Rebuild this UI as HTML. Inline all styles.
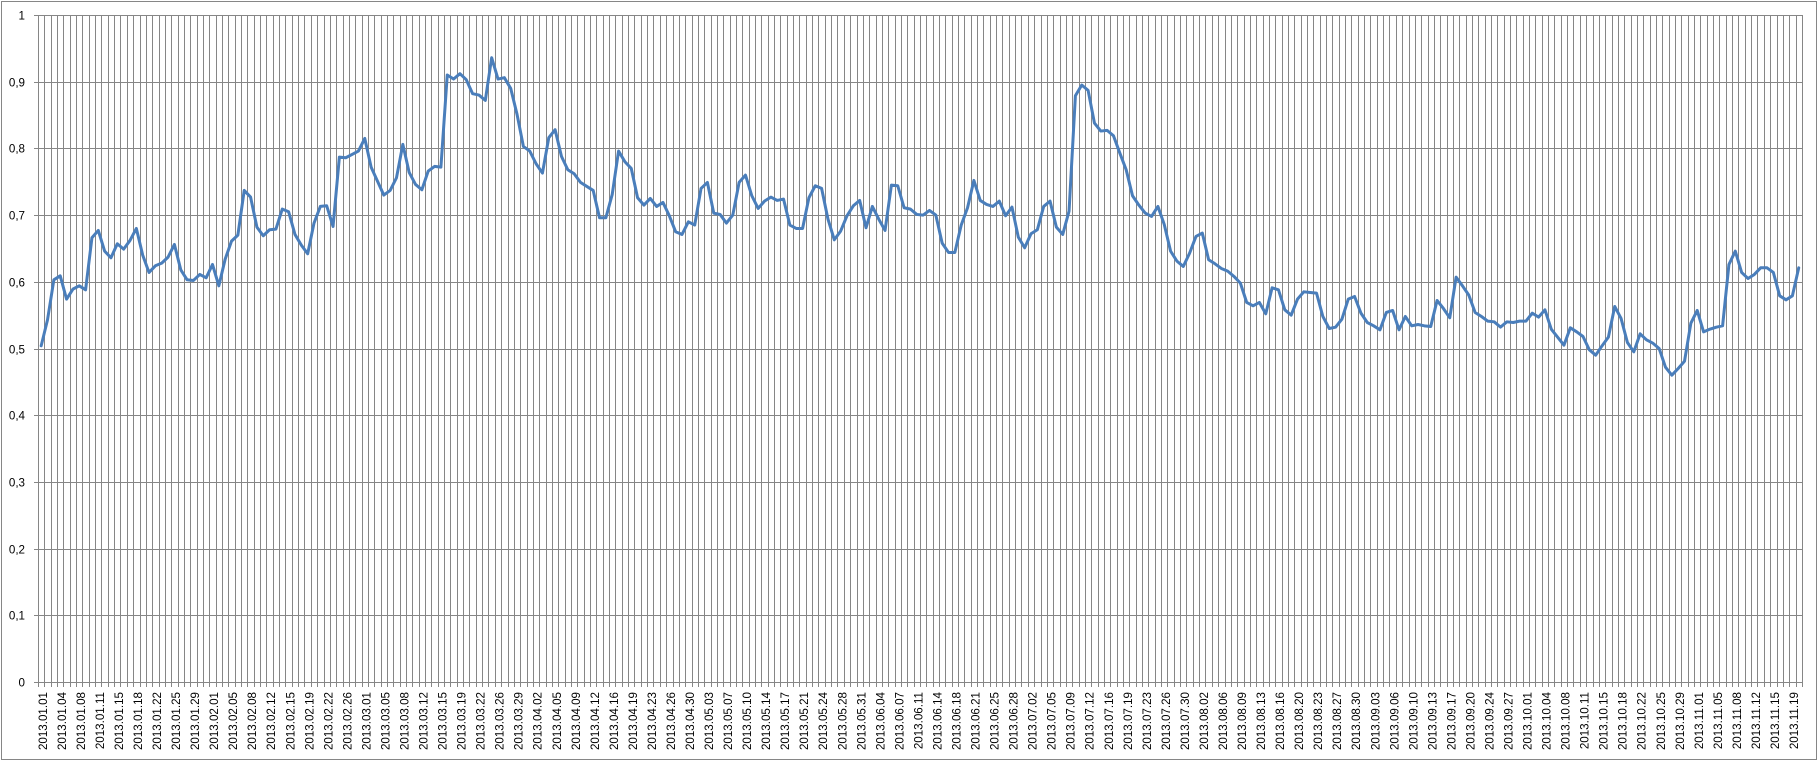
<!DOCTYPE html>
<html><head><meta charset="utf-8"><style>html,body{margin:0;padding:0;background:#fff;}svg{display:block;}text{font-family:"Liberation Sans",Arial,sans-serif;font-size:11.6px;fill:#000;}</style></head>
<body>
<svg width="1819" height="762" viewBox="0 0 1819 762" xmlns="http://www.w3.org/2000/svg">
<rect x="0" y="0" width="1819" height="762" fill="#fff"/>
<rect x="1.5" y="1.5" width="1815" height="758" fill="none" stroke="#868686" stroke-width="1"/>
<g stroke="#868686" stroke-width="1" shape-rendering="crispEdges" fill="none">
<path d="M34 15.5H1802M34 82.5H1802M34 148.5H1802M34 215.5H1802M34 282.5H1802M34 349.5H1802M34 415.5H1802M34 482.5H1802M34 549.5H1802M34 615.5H1802M34 682.5H1802"/>
<path d="M38.5 15V687M44.5 15V687M51.5 15V687M57.5 15V687M63.5 15V687M70.5 15V687M76.5 15V687M82.5 15V687M89.5 15V687M95.5 15V687M101.5 15V687M108.5 15V687M114.5 15V687M120.5 15V687M127.5 15V687M133.5 15V687M140.5 15V687M146.5 15V687M152.5 15V687M159.5 15V687M165.5 15V687M171.5 15V687M178.5 15V687M184.5 15V687M190.5 15V687M197.5 15V687M203.5 15V687M209.5 15V687M216.5 15V687M222.5 15V687M228.5 15V687M235.5 15V687M241.5 15V687M247.5 15V687M254.5 15V687M260.5 15V687M266.5 15V687M273.5 15V687M279.5 15V687M285.5 15V687M292.5 15V687M298.5 15V687M304.5 15V687M311.5 15V687M317.5 15V687M324.5 15V687M330.5 15V687M336.5 15V687M343.5 15V687M349.5 15V687M355.5 15V687M362.5 15V687M368.5 15V687M374.5 15V687M381.5 15V687M387.5 15V687M393.5 15V687M400.5 15V687M406.5 15V687M412.5 15V687M419.5 15V687M425.5 15V687M431.5 15V687M438.5 15V687M444.5 15V687M450.5 15V687M457.5 15V687M463.5 15V687M469.5 15V687M476.5 15V687M482.5 15V687M488.5 15V687M495.5 15V687M501.5 15V687M508.5 15V687M514.5 15V687M520.5 15V687M527.5 15V687M533.5 15V687M539.5 15V687M546.5 15V687M552.5 15V687M558.5 15V687M565.5 15V687M571.5 15V687M577.5 15V687M584.5 15V687M590.5 15V687M596.5 15V687M603.5 15V687M609.5 15V687M615.5 15V687M622.5 15V687M628.5 15V687M634.5 15V687M641.5 15V687M647.5 15V687M653.5 15V687M660.5 15V687M666.5 15V687M673.5 15V687M679.5 15V687M685.5 15V687M692.5 15V687M698.5 15V687M704.5 15V687M711.5 15V687M717.5 15V687M723.5 15V687M730.5 15V687M736.5 15V687M742.5 15V687M749.5 15V687M755.5 15V687M761.5 15V687M768.5 15V687M774.5 15V687M780.5 15V687M787.5 15V687M793.5 15V687M799.5 15V687M806.5 15V687M812.5 15V687M818.5 15V687M825.5 15V687M831.5 15V687M837.5 15V687M844.5 15V687M850.5 15V687M857.5 15V687M863.5 15V687M869.5 15V687M876.5 15V687M882.5 15V687M888.5 15V687M895.5 15V687M901.5 15V687M907.5 15V687M914.5 15V687M920.5 15V687M926.5 15V687M933.5 15V687M939.5 15V687M945.5 15V687M952.5 15V687M958.5 15V687M964.5 15V687M971.5 15V687M977.5 15V687M983.5 15V687M990.5 15V687M996.5 15V687M1002.5 15V687M1009.5 15V687M1015.5 15V687M1021.5 15V687M1028.5 15V687M1034.5 15V687M1041.5 15V687M1047.5 15V687M1053.5 15V687M1060.5 15V687M1066.5 15V687M1072.5 15V687M1079.5 15V687M1085.5 15V687M1091.5 15V687M1098.5 15V687M1104.5 15V687M1110.5 15V687M1117.5 15V687M1123.5 15V687M1129.5 15V687M1136.5 15V687M1142.5 15V687M1148.5 15V687M1155.5 15V687M1161.5 15V687M1167.5 15V687M1174.5 15V687M1180.5 15V687M1186.5 15V687M1193.5 15V687M1199.5 15V687M1205.5 15V687M1212.5 15V687M1218.5 15V687M1225.5 15V687M1231.5 15V687M1237.5 15V687M1244.5 15V687M1250.5 15V687M1256.5 15V687M1263.5 15V687M1269.5 15V687M1275.5 15V687M1282.5 15V687M1288.5 15V687M1294.5 15V687M1301.5 15V687M1307.5 15V687M1313.5 15V687M1320.5 15V687M1326.5 15V687M1332.5 15V687M1339.5 15V687M1345.5 15V687M1351.5 15V687M1358.5 15V687M1364.5 15V687M1370.5 15V687M1377.5 15V687M1383.5 15V687M1389.5 15V687M1396.5 15V687M1402.5 15V687M1409.5 15V687M1415.5 15V687M1421.5 15V687M1428.5 15V687M1434.5 15V687M1440.5 15V687M1447.5 15V687M1453.5 15V687M1459.5 15V687M1466.5 15V687M1472.5 15V687M1478.5 15V687M1485.5 15V687M1491.5 15V687M1497.5 15V687M1504.5 15V687M1510.5 15V687M1516.5 15V687M1523.5 15V687M1529.5 15V687M1535.5 15V687M1542.5 15V687M1548.5 15V687M1554.5 15V687M1561.5 15V687M1567.5 15V687M1573.5 15V687M1580.5 15V687M1586.5 15V687M1593.5 15V687M1599.5 15V687M1605.5 15V687M1612.5 15V687M1618.5 15V687M1624.5 15V687M1631.5 15V687M1637.5 15V687M1643.5 15V687M1650.5 15V687M1656.5 15V687M1662.5 15V687M1669.5 15V687M1675.5 15V687M1681.5 15V687M1688.5 15V687M1694.5 15V687M1700.5 15V687M1707.5 15V687M1713.5 15V687M1719.5 15V687M1726.5 15V687M1732.5 15V687M1738.5 15V687M1745.5 15V687M1751.5 15V687M1757.5 15V687M1764.5 15V687M1770.5 15V687M1777.5 15V687M1783.5 15V687M1789.5 15V687M1796.5 15V687M1802.5 15V687"/>
</g>
<g text-anchor="end">
<text x="25" y="19.5">1</text>
<text x="25" y="86.5">0,9</text>
<text x="25" y="152.5">0,8</text>
<text x="25" y="219.5">0,7</text>
<text x="25" y="286.5">0,6</text>
<text x="25" y="353.5">0,5</text>
<text x="25" y="419.5">0,4</text>
<text x="25" y="486.5">0,3</text>
<text x="25" y="553.5">0,2</text>
<text x="25" y="619.5">0,1</text>
<text x="25" y="686.5">0</text>
</g>
<polyline fill="none" stroke="#4a7ebb" stroke-width="3" stroke-linejoin="round" stroke-linecap="round" vector-effect="non-scaling-stroke" transform="translate(41.1725,682) scale(6.345,-667)" points="0,.504 1,.543 2,.603 3,.609 4,.574 5,.589 6,.594 7,.588 8,.666 9,.677 10,.646 11,.636 12,.657 13,.649 14,.662 15,.680 16,.640 17,.614 18,.624 19,.628 20,.637 21,.656 22,.618 23,.603 24,.602 25,.611 26,.606 27,.626 28,.594 29,.634 30,.661 31,.670 32,.737 33,.727 34,.682 35,.669 36,.678 37,.679 38,.709 39,.705 40,.671 41,.655 42,.642 43,.688 44,.713 45,.714 46,.683 47,.787 48,.786 49,.791 50,.796 51,.815 52,.772 53,.751 54,.730 55,.737 56,.756 57,.806 58,.764 59,.746 60,.738 61,.766 62,.773 63,.772 64,.910 65,.904 66,.912 67,.903 68,.882 69,.880 70,.872 71,.936 72,.904 73,.906 74,.890 75,.851 76,.803 77,.796 78,.777 79,.763 80,.816 81,.828 82,.788 83,.768 84,.762 85,.749 86,.743 87,.737 88,.696 89,.696 90,.731 91,.796 92,.780 93,.770 94,.726 95,.715 96,.725 97,.713 98,.719 99,.699 100,.675 101,.671 102,.690 103,.685 104,.740 105,.749 106,.703 107,.701 108,.688 109,.700 110,.749 111,.760 112,.729 113,.710 114,.721 115,.727 116,.722 117,.724 118,.685 119,.680 120,.680 121,.726 122,.744 123,.740 124,.694 125,.663 126,.676 127,.699 128,.714 129,.722 130,.681 131,.713 132,.694 133,.677 134,.745 135,.744 136,.711 137,.709 138,.701 139,.700 140,.707 141,.700 142,.658 143,.644 144,.644 145,.685 146,.711 147,.752 148,.722 149,.716 150,.713 151,.721 152,.699 153,.712 154,.667 155,.651 156,.672 157,.678 158,.713 159,.721 160,.682 161,.671 162,.706 163,.879 164,.895 165,.887 166,.838 167,.826 168,.827 169,.819 170,.793 171,.768 172,.729 173,.715 174,.703 175,.698 176,.713 177,.686 178,.646 179,.631 180,.623 181,.643 182,.668 183,.673 184,.633 185,.627 186,.620 187,.616 188,.608 189,.598 190,.569 191,.564 192,.569 193,.552 194,.591 195,.588 196,.558 197,.550 198,.574 199,.585 200,.584 201,.583 202,.548 203,.530 204,.532 205,.544 206,.574 207,.578 208,.553 209,.539 210,.534 211,.528 212,.554 213,.557 214,.528 215,.548 216,.534 217,.536 218,.534 219,.533 220,.572 221,.560 222,.546 223,.607 224,.594 225,.580 226,.554 227,.548 228,.541 229,.540 230,.532 231,.540 232,.539 233,.541 234,.541 235,.553 236,.547 237,.558 238,.529 239,.517 240,.505 241,.531 242,.525 243,.518 244,.498 245,.490 246,.504 247,.517 248,.563 249,.545 250,.509 251,.495 252,.522 253,.513 254,.508 255,.500 256,.472 257,.460 258,.470 259,.481 260,.538 261,.557 262,.525 263,.529 264,.532 265,.534 266,.626 267,.646 268,.614 269,.605 270,.611 271,.621 272,.621 273,.614 274,.579 275,.573 276,.579 277,.621"/>
<g text-anchor="end">
<text transform="translate(46.80,692) rotate(-90)">2013.01.01</text>
<text transform="translate(65.84,692) rotate(-90)">2013.01.04</text>
<text transform="translate(84.87,692) rotate(-90)">2013.01.08</text>
<text transform="translate(103.91,692) rotate(-90)">2013.01.11</text>
<text transform="translate(122.94,692) rotate(-90)">2013.01.15</text>
<text transform="translate(141.98,692) rotate(-90)">2013.01.18</text>
<text transform="translate(161.01,692) rotate(-90)">2013.01.22</text>
<text transform="translate(180.05,692) rotate(-90)">2013.01.25</text>
<text transform="translate(199.08,692) rotate(-90)">2013.01.29</text>
<text transform="translate(218.12,692) rotate(-90)">2013.02.01</text>
<text transform="translate(237.15,692) rotate(-90)">2013.02.05</text>
<text transform="translate(256.19,692) rotate(-90)">2013.02.08</text>
<text transform="translate(275.22,692) rotate(-90)">2013.02.12</text>
<text transform="translate(294.26,692) rotate(-90)">2013.02.15</text>
<text transform="translate(313.29,692) rotate(-90)">2013.02.19</text>
<text transform="translate(332.33,692) rotate(-90)">2013.02.22</text>
<text transform="translate(351.36,692) rotate(-90)">2013.02.26</text>
<text transform="translate(370.40,692) rotate(-90)">2013.03.01</text>
<text transform="translate(389.43,692) rotate(-90)">2013.03.05</text>
<text transform="translate(408.47,692) rotate(-90)">2013.03.08</text>
<text transform="translate(427.50,692) rotate(-90)">2013.03.12</text>
<text transform="translate(446.54,692) rotate(-90)">2013.03.15</text>
<text transform="translate(465.57,692) rotate(-90)">2013.03.19</text>
<text transform="translate(484.61,692) rotate(-90)">2013.03.22</text>
<text transform="translate(503.64,692) rotate(-90)">2013.03.26</text>
<text transform="translate(522.68,692) rotate(-90)">2013.03.29</text>
<text transform="translate(541.71,692) rotate(-90)">2013.04.02</text>
<text transform="translate(560.75,692) rotate(-90)">2013.04.05</text>
<text transform="translate(579.78,692) rotate(-90)">2013.04.09</text>
<text transform="translate(598.82,692) rotate(-90)">2013.04.12</text>
<text transform="translate(617.85,692) rotate(-90)">2013.04.16</text>
<text transform="translate(636.89,692) rotate(-90)">2013.04.19</text>
<text transform="translate(655.92,692) rotate(-90)">2013.04.23</text>
<text transform="translate(674.96,692) rotate(-90)">2013.04.26</text>
<text transform="translate(693.99,692) rotate(-90)">2013.04.30</text>
<text transform="translate(713.03,692) rotate(-90)">2013.05.03</text>
<text transform="translate(732.06,692) rotate(-90)">2013.05.07</text>
<text transform="translate(751.10,692) rotate(-90)">2013.05.10</text>
<text transform="translate(770.13,692) rotate(-90)">2013.05.14</text>
<text transform="translate(789.17,692) rotate(-90)">2013.05.17</text>
<text transform="translate(808.20,692) rotate(-90)">2013.05.21</text>
<text transform="translate(827.24,692) rotate(-90)">2013.05.24</text>
<text transform="translate(846.27,692) rotate(-90)">2013.05.28</text>
<text transform="translate(865.31,692) rotate(-90)">2013.05.31</text>
<text transform="translate(884.34,692) rotate(-90)">2013.06.04</text>
<text transform="translate(903.38,692) rotate(-90)">2013.06.07</text>
<text transform="translate(922.41,692) rotate(-90)">2013.06.11</text>
<text transform="translate(941.45,692) rotate(-90)">2013.06.14</text>
<text transform="translate(960.48,692) rotate(-90)">2013.06.18</text>
<text transform="translate(979.52,692) rotate(-90)">2013.06.21</text>
<text transform="translate(998.55,692) rotate(-90)">2013.06.25</text>
<text transform="translate(1017.59,692) rotate(-90)">2013.06.28</text>
<text transform="translate(1036.62,692) rotate(-90)">2013.07.02</text>
<text transform="translate(1055.66,692) rotate(-90)">2013.07.05</text>
<text transform="translate(1074.69,692) rotate(-90)">2013.07.09</text>
<text transform="translate(1093.73,692) rotate(-90)">2013.07.12</text>
<text transform="translate(1112.76,692) rotate(-90)">2013.07.16</text>
<text transform="translate(1131.80,692) rotate(-90)">2013.07.19</text>
<text transform="translate(1150.83,692) rotate(-90)">2013.07.23</text>
<text transform="translate(1169.87,692) rotate(-90)">2013.07.26</text>
<text transform="translate(1188.90,692) rotate(-90)">2013.07.30</text>
<text transform="translate(1207.94,692) rotate(-90)">2013.08.02</text>
<text transform="translate(1226.97,692) rotate(-90)">2013.08.06</text>
<text transform="translate(1246.01,692) rotate(-90)">2013.08.09</text>
<text transform="translate(1265.04,692) rotate(-90)">2013.08.13</text>
<text transform="translate(1284.08,692) rotate(-90)">2013.08.16</text>
<text transform="translate(1303.11,692) rotate(-90)">2013.08.20</text>
<text transform="translate(1322.15,692) rotate(-90)">2013.08.23</text>
<text transform="translate(1341.18,692) rotate(-90)">2013.08.27</text>
<text transform="translate(1360.22,692) rotate(-90)">2013.08.30</text>
<text transform="translate(1379.25,692) rotate(-90)">2013.09.03</text>
<text transform="translate(1398.29,692) rotate(-90)">2013.09.06</text>
<text transform="translate(1417.32,692) rotate(-90)">2013.09.10</text>
<text transform="translate(1436.36,692) rotate(-90)">2013.09.13</text>
<text transform="translate(1455.39,692) rotate(-90)">2013.09.17</text>
<text transform="translate(1474.43,692) rotate(-90)">2013.09.20</text>
<text transform="translate(1493.46,692) rotate(-90)">2013.09.24</text>
<text transform="translate(1512.50,692) rotate(-90)">2013.09.27</text>
<text transform="translate(1531.53,692) rotate(-90)">2013.10.01</text>
<text transform="translate(1550.57,692) rotate(-90)">2013.10.04</text>
<text transform="translate(1569.60,692) rotate(-90)">2013.10.08</text>
<text transform="translate(1588.64,692) rotate(-90)">2013.10.11</text>
<text transform="translate(1607.67,692) rotate(-90)">2013.10.15</text>
<text transform="translate(1626.71,692) rotate(-90)">2013.10.18</text>
<text transform="translate(1645.74,692) rotate(-90)">2013.10.22</text>
<text transform="translate(1664.78,692) rotate(-90)">2013.10.25</text>
<text transform="translate(1683.81,692) rotate(-90)">2013.10.29</text>
<text transform="translate(1702.85,692) rotate(-90)">2013.11.01</text>
<text transform="translate(1721.88,692) rotate(-90)">2013.11.05</text>
<text transform="translate(1740.92,692) rotate(-90)">2013.11.08</text>
<text transform="translate(1759.95,692) rotate(-90)">2013.11.12</text>
<text transform="translate(1778.99,692) rotate(-90)">2013.11.15</text>
<text transform="translate(1798.02,692) rotate(-90)">2013.11.19</text>
</g>
</svg>
</body></html>
